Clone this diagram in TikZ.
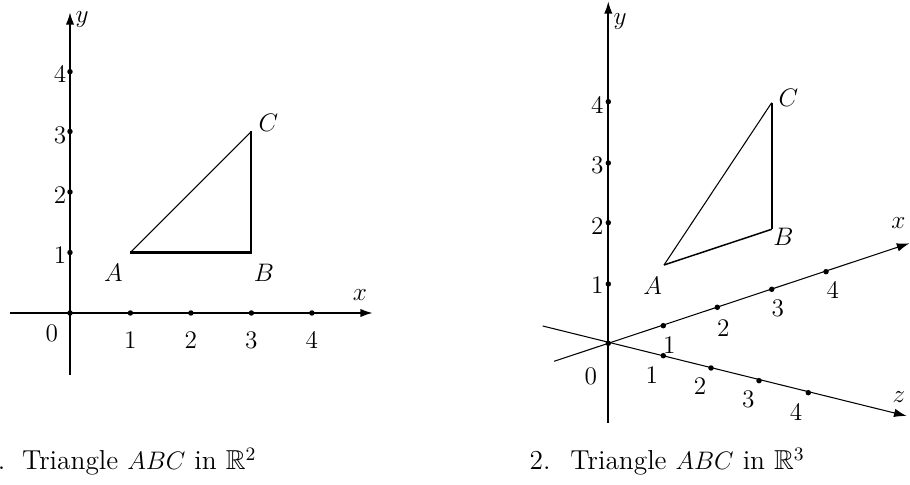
\documentclass[tikz,border=0pt]{standalone}
\usepackage{amssymb}
\usetikzlibrary{arrows.meta}
\begin{document}
\begin{tikzpicture}[x=0.0166667cm,y=-0.0166667cm,
  thickline/.style={line width=1pt,line join=miter},
  thinline/.style={line width=0.5pt},
  axisarrow/.style={-{Latex[length=6pt,width=4pt]}},
  dot/.style={circle,fill=black,inner sep=0pt,minimum size=2.6pt},
  lbl/.style={font=\fontsize{12}{14}\selectfont,inner sep=0pt},
  captext/.style={font=\fontsize{13}{15}\selectfont,inner sep=0pt,anchor=base west}
]
\useasboundingbox (0,0) rectangle (910,485);

% ---------- Left figure: R^2 ----------
\coordinate (O1) at (70,313);
\coordinate (X1s) at (10,313);
\coordinate (X1e) at (373,313);
\coordinate (Y1s) at (70,375);
\coordinate (Y1e) at (70,12);
\draw[thickline,axisarrow] (X1s) -- (X1e);
\draw[thickline,axisarrow] (Y1s) -- (Y1e);
\node[dot] (o1) at (O1) {};
\foreach \i/\px in {1/130.4,2/190.9,3/251.4,4/311.9}{
  \node[dot] (xt1\i) at (\px,313) {};
  \node[lbl] (xl1\i) at (\px,340) {$\i$};
}
\foreach \i/\py/\ly in {1/252.5/255.8,2/192/195.3,3/131.5/135,4/71.7/74.3}{
  \node[dot] (yt1\i) at (70,\py) {};
  \node[lbl] (yl1\i) at (60,\ly) {$\i$};
}
\node[lbl] (zero1) at (51.7,333.3) {$0$};
\node[lbl] (xlab1) at (360,295) {$x$};
\node[lbl] (ylab1) at (82,20) {$y$};
\coordinate (A1) at (130.4,252.5);
\coordinate (B1) at (251.4,252.5);
\coordinate (C1) at (251.4,131.5);
\draw[thickline] (A1) -- (B1) -- (C1);
\draw[thinline] (A1) -- (C1);
\node[lbl] (lA1) at (113.3,273.3) {$A$};
\node[lbl] (lB1) at (264,273) {$B$};
\node[lbl] (lC1) at (268.3,122.7) {$C$};
\node[captext] (c1n) at (-16,470) {1.};
\node[captext] (c1t) at (21.7,470) {Triangle $ABC$ in $\mathbb{R}^2$};

% ---------- Right figure: R^3 ----------
\coordinate (O2) at (608.3,343.3);
\coordinate (Y2s) at (608.3,422.7);
\coordinate (Y2e) at (608.3,1);
\coordinate (X2s) at (554.1,361.3);
\coordinate (X2e) at (909.5,243.3);
\coordinate (Z2s) at (542.7,326);
\coordinate (Z2e) at (906.7,416);
\draw[thickline,axisarrow] (Y2s) -- (Y2e);
\draw[thinline,axisarrow] (X2s) -- (X2e);
\draw[thinline,axisarrow] (Z2s) -- (Z2e);
\node[dot] (o2) at (O2) {};
\foreach \i/\py/\ly in {1/284/285.7,2/222.7/226,3/163/165,4/101.7/105}{
  \node[dot] (yt2\i) at (608.3,\py) {};
  \node[lbl] (yl2\i) at (597.3,\ly) {$\i$};
}
\foreach \i/\px/\py/\lx/\ly in {1/663.3/325.7/669.3/345,2/717.3/307.3/723.3/328.3,3/771.7/289.3/777.7/308.3,4/826/271.7/832.7/290}{
  \node[dot] (xt2\i) at (\px,\py) {};
  \node[lbl] (xl2\i) at (\lx,\ly) {$\i$};
}
\foreach \i/\px/\py/\lx/\ly in {1/663.3/355.7/651.7/375,2/711/368/700/386.7,3/759/380.7/748.3/399.3,4/808.3/392.7/796/412.7}{
  \node[dot] (zt2\i) at (\px,\py) {};
  \node[lbl] (zl2\i) at (\lx,\ly) {$\i$};
}
\node[lbl] (zero2) at (590.7,376.7) {$0$};
\node[lbl] (xlab2) at (898.3,223.3) {$x$};
\node[lbl] (ylab2) at (620,21.7) {$y$};
\node[lbl] (zlab2) at (899,396.7) {$z$};
\coordinate (A2) at (664,265);
\coordinate (B2) at (771.7,229.3);
\coordinate (C2) at (771.7,102.7);
\draw[thickline] (B2) -- (C2);
\draw[line width=0.7pt] (A2) -- (B2);
\draw[thinline] (A2) -- (C2);
\node[lbl] (lA2) at (652.7,286) {$A$};
\node[lbl] (lB2) at (783.3,236.7) {$B$};
\node[lbl] (lC2) at (788.3,98.3) {$C$};
\node[captext] (c2n) at (529.3,470) {2.};
\node[captext] (c2t) at (570,470) {Triangle $ABC$ in $\mathbb{R}^3$};
\end{tikzpicture}
\end{document}
